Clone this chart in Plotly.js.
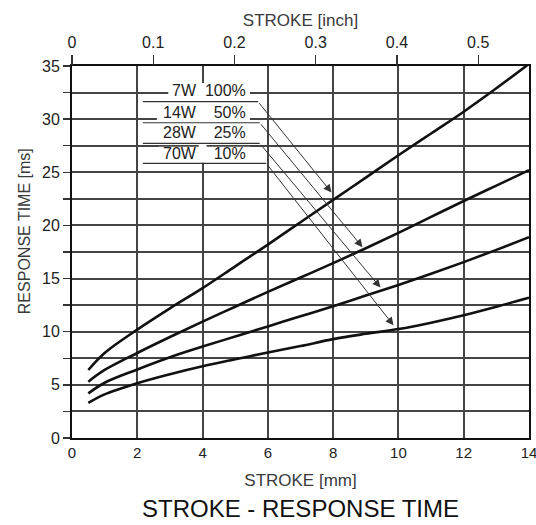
<!DOCTYPE html>
<html><head><meta charset="utf-8">
<script src="https://cdn.plot.ly/plotly-3.0.1.min.js"></script>
<style>html,body{margin:0;padding:0;background:#fff}#chart{width:536px;height:525px}</style>
</head><body><div id="chart"></div>
<script>
// ---- data ----
const strokeMm = [0.5, 1, 2, 3, 4, 5, 6, 7, 8, 9, 10, 11, 12, 13, 14];
const rt7W  = [6.4, 8.0, 10.2, 12.2, 14.1, 16.15, 18.2, 20.3, 22.4, 24.5, 26.6, 28.65, 30.7, 32.9, 35.2];
const rt14W = [5.3, 6.4, 8.0, 9.5, 10.95, 12.35, 13.75, 15.1, 16.45, 17.85, 19.3, 20.8, 22.3, 23.75, 25.2];
const rt28W = [4.2, 5.2, 6.45, 7.6, 8.6, 9.55, 10.5, 11.45, 12.4, 13.4, 14.4, 15.45, 16.55, 17.7, 18.9];
const rt70W = [3.3, 4.1, 5.15, 6.0, 6.75, 7.4, 8.05, 8.65, 9.3, 9.8, 10.25, 10.85, 11.55, 12.35, 13.2];
const seriesLabels = ['7W\u00a0\u00a0100%', '14W\u00a0\u00a0\u00a0\u00a050%', '28W\u00a0\u00a0\u00a0\u00a025%', '70W\u00a0\u00a0\u00a0\u00a010%'];
const mmTicks = [0, 2, 4, 6, 8, 10, 12, 14];
const inchTicks = [0, 0.1, 0.2, 0.3, 0.4, 0.5];
const msTicks = [0, 2.5, 5, 7.5, 10, 12.5, 15, 17.5, 20, 22.5, 25, 27.5, 30, 32.5, 35];

// ---- styling / placement ----
const FONT = 'Liberation Sans, Arial, sans-serif';
const INK = '#222';
const TITLE_INK = '#3a3a3a';
const GRID = '#444';
const allSeries = [rt7W, rt14W, rt28W, rt70W];

const traces = allSeries.map(ys => ({
  x: strokeMm, y: ys, type: 'scatter', mode: 'lines',
  line: {color: '#111', width: 2.6, shape: 'spline', smoothing: 1},
  hoverinfo: 'skip', showlegend: false
}));
// invisible trace so the top inch axis is drawn
traces.push({x: strokeMm.map(v => v / 25.4), y: rt7W, xaxis: 'x2', type: 'scatter', mode: 'lines',
  line: {width: 0, color: 'rgba(0,0,0,0)'}, hoverinfo: 'skip', showlegend: false});

// label block and leader lines
const labelTextY = [32.65, 30.65, 28.75, 26.75];
const maskY = [[31.95, 33.35], [29.85, 31.3], [28.05, 29.4], [26.05, 27.4]];
const maskX0 = [2.95, 2.6, 2.6, 2.65];
const underlineY = [31.64, 29.66, 27.72, 25.84];
const underlineEnd = [5.70, 5.75, 5.75, 5.95];
const tipX = [7.95, 8.9, 9.45, 9.85];
const tipY = [23.1, 17.95, 14.15, 10.6];

const annotations = [];
const shapes = [{type: 'rect', xref: 'x', yref: 'y', x0: 3.88, x1: 4.12, y0: 25.9, y1: 33.4,
  fillcolor: '#fff', line: {width: 0}, layer: 'between'}];
seriesLabels.forEach((t, i) => {
  shapes.push({type: 'rect', xref: 'x', yref: 'y', x0: maskX0[i], x1: 5.45, y0: maskY[i][0], y1: maskY[i][1],
    fillcolor: '#fff', line: {width: 0}, layer: 'between'});
  annotations.push({x: 5.4, y: labelTextY[i], xref: 'x', yref: 'y', xanchor: 'right', yanchor: 'middle',
    text: t, showarrow: false, font: {family: FONT, size: 16, color: INK}});
  shapes.push({type: 'line', xref: 'x', yref: 'y', x0: 2.17, x1: underlineEnd[i], y0: underlineY[i], y1: underlineY[i],
    line: {color: '#333', width: 1.2}});
  annotations.push({x: tipX[i], y: tipY[i], ax: underlineEnd[i], ay: underlineY[i], xref: 'x', yref: 'y',
    axref: 'x', ayref: 'y', text: '', showarrow: true, arrowhead: 2, arrowsize: 1.6, arrowwidth: 1,
    arrowcolor: '#333', standoff: 0, startstandoff: 0});
});
// y-axis title (placed slightly above centre as in the reference)
annotations.push({xref: 'paper', yref: 'paper', x: -0.105, y: 0.556, xanchor: 'center', yanchor: 'middle',
  text: 'RESPONSE TIME [ms]', textangle: -90, showarrow: false, font: {family: FONT, size: 16, color: TITLE_INK}});

const layout = {
  width: 536, height: 525,
  margin: {l: 72, r: 7, t: 66, b: 87},
  paper_bgcolor: '#fff', plot_bgcolor: '#fff',
  font: {family: FONT, color: INK},
  title: {text: 'STROKE - RESPONSE TIME', x: 0.5, xref: 'paper', y: 0.031, yref: 'container', yanchor: 'middle',
    font: {family: FONT, size: 24, color: '#111'}},
  xaxis: {range: [0, 14], tickvals: mmTicks, ticks: '', showgrid: true, gridcolor: GRID, gridwidth: 2,
    showline: true, mirror: true, linecolor: '#111', linewidth: 2, zeroline: false, ticklabeloverflow: 'allow',
    tickfont: {family: FONT, size: 15, color: INK},
    title: {text: 'STROKE [mm]', standoff: 14, font: {family: FONT, size: 17, color: TITLE_INK}}},
  xaxis2: {overlaying: 'x', side: 'top', range: [0, 0.5625], tickvals: inchTicks,
    ticktext: inchTicks.map(v => v === 0 ? '0' : v.toFixed(1)), ticklabeloverflow: 'allow',
    ticks: 'outside', ticklen: 10, tickwidth: 1.2, tickcolor: '#333', ticklabelstandoff: 1,
    showgrid: false, showline: false, zeroline: false,
    tickfont: {family: FONT, size: 16, color: INK},
    title: {text: 'STROKE [inch]', standoff: 2, font: {family: FONT, size: 17, color: TITLE_INK}}},
  yaxis: {range: [0, 35], tickvals: msTicks, ticktext: msTicks.map(v => v % 5 === 0 ? String(v) : ''),
    ticks: 'outside', ticklen: 7, tickwidth: 1.5, tickcolor: '#333', showgrid: true, gridcolor: GRID, gridwidth: 2,
    showline: true, mirror: true, linecolor: '#111', linewidth: 2, zeroline: false, ticklabeloverflow: 'allow',
    tickfont: {family: FONT, size: 16, color: INK}},
  shapes: shapes,
  annotations: annotations
};

Plotly.newPlot('chart', traces, layout, {staticPlot: true, displayModeBar: false});
</script>
</body></html>
